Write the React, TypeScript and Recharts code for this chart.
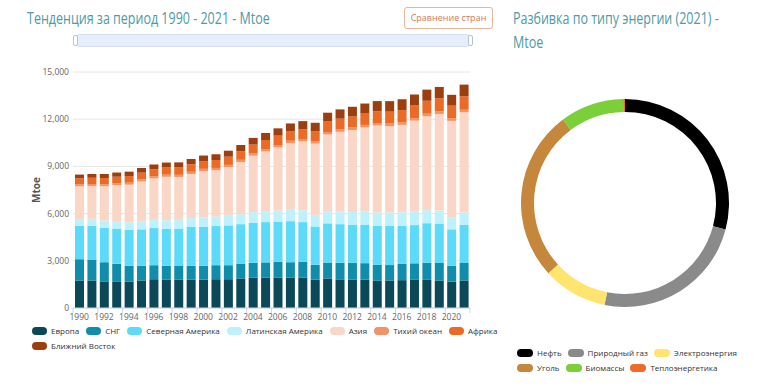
import React from 'react';
import { Bar, BarChart, CartesianGrid, Cell, Pie, PieChart, XAxis, YAxis } from 'recharts';

const FONT = '"Open Sans", "Noto Sans", sans-serif';
const TITLE_COLOR = '#4F9AA3';
const AXIS_LINE = '#CCD6EB';
const GRID = '#E6E6E6';
const LABEL = '#666666';

const YEARS = [
  1990, 1991, 1992, 1993, 1994, 1995, 1996, 1997, 1998, 1999, 2000, 2001, 2002, 2003, 2004, 2005,
  2006, 2007, 2008, 2009, 2010, 2011, 2012, 2013, 2014, 2015, 2016, 2017, 2018, 2019, 2020, 2021,
];

// Mtoe by region
const EUROPE = [
  1750, 1750, 1690, 1690, 1670, 1750, 1830, 1810, 1810, 1810, 1800, 1830, 1830, 1880, 1940, 1940,
  1940, 1920, 1920, 1800, 1880, 1820, 1810, 1800, 1730, 1750, 1770, 1790, 1790, 1750, 1670, 1750,
];
const CIS = [
  1350, 1330, 1220, 1120, 1010, 930, 890, 870, 860, 870, 880, 890, 890, 920, 930, 960,
  990, 990, 1010, 950, 1010, 1060, 1060, 1050, 1010, 980, 1030, 1050, 1090, 1110, 1010, 1110,
];
const NORTH_AMERICA = [
  2130, 2150, 2190, 2240, 2280, 2320, 2360, 2360, 2380, 2470, 2490, 2490, 2530, 2530, 2550, 2560,
  2560, 2610, 2530, 2430, 2490, 2450, 2410, 2450, 2490, 2490, 2430, 2430, 2510, 2510, 2320, 2430,
];
const LATIN_AMERICA = [
  430, 450, 460, 475, 490, 500, 520, 540, 550, 560, 590, 600, 615, 635, 670, 690,
  700, 730, 750, 740, 770, 790, 820, 840, 840, 850, 850, 840, 830, 820, 760, 780,
];
const ASIA = [
  2080, 2080, 2180, 2285, 2390, 2545, 2640, 2760, 2730, 2810, 2945, 2950, 3090, 3310, 3590, 3800,
  4020, 4230, 4380, 4530, 4880, 5080, 5215, 5340, 5530, 5490, 5560, 5800, 5970, 6145, 6135, 6370,
];
const PACIFIC = [
  120, 122, 123, 125, 127, 130, 132, 134, 136, 138, 140, 142, 143, 145, 147, 148,
  149, 150, 152, 152, 153, 154, 155, 156, 157, 158, 158, 159, 160, 160, 155, 158,
];
const AFRICA = [
  390, 395, 400, 410, 420, 430, 445, 455, 465, 475, 490, 505, 520, 540, 560, 580,
  595, 610, 625, 640, 670, 680, 700, 720, 740, 760, 780, 800, 820, 840, 810, 860,
];
const MIDDLE_EAST = [
  230, 240, 255, 265, 280, 295, 305, 315, 325, 340, 355, 365, 380, 400, 425, 445,
  465, 490, 510, 530, 560, 590, 620, 640, 655, 670, 690, 700, 710, 715, 690, 740,
];

const Y_TICKS = [0, 3000, 6000, 9000, 12000, 15000];

const REGIONS = [
  { key: 'europe', name: 'Европа', color: '#0B4858', values: EUROPE },
  { key: 'cis', name: 'СНГ', color: '#0F8DAA', values: CIS },
  { key: 'na', name: 'Северная Америка', color: '#5BDBF9', values: NORTH_AMERICA },
  { key: 'la', name: 'Латинская Америка', color: '#BDF1FC', values: LATIN_AMERICA },
  { key: 'asia', name: 'Азия', color: '#F9D6C5', values: ASIA },
  { key: 'pacific', name: 'Тихий океан', color: '#F29267', values: PACIFIC },
  { key: 'africa', name: 'Африка', color: '#EB6A26', values: AFRICA },
  { key: 'me', name: 'Ближний Восток', color: '#9C3F10', values: MIDDLE_EAST },
];

// 2021 split by energy type, Mtoe
const ENERGY_TYPES = ['Нефть', 'Природный газ', 'Электроэнергия', 'Уголь', 'Биомассы', 'Теплоэнергетика'];
const ENERGY_2021 = [4150, 3430, 1430, 3800, 1410, 40];
const ENERGY_COLORS = ['#000000', '#8A8A8A', '#FFE470', '#C4873C', '#7BD03A', '#EE6B2A'];

const rows = YEARS.map((year, i) => {
  const row: Record<string, number> = { year };
  REGIONS.forEach((r) => {
    row[r.key] = r.values[i];
  });
  return row;
});

const energyRows = ENERGY_TYPES.map((name, i) => ({ name, value: ENERGY_2021[i] }));

function YearTick(props: any) {
  const { x, y, payload, index } = props;
  const half = 6.2;
  const axisY = y - 6;
  return (
    <g>
      {index % 2 === 0 ? (
        <line x1={x - half} x2={x - half} y1={axisY} y2={axisY + 5} stroke={AXIS_LINE} />
      ) : null}
      {index === YEARS.length - 1 ? (
        <line x1={x + half} x2={x + half} y1={axisY} y2={axisY + 5} stroke={AXIS_LINE} />
      ) : null}
      {index % 2 === 0 ? (
        <text x={x} y={y} dy="0.71em" textAnchor="middle" fill={LABEL} fontSize={8.5} fontFamily={FONT}>
          {payload.value}
        </text>
      ) : null}
    </g>
  );
}

function Title({ children, left, top, width }: { children: React.ReactNode; left: number; top: number; width: number }) {
  return (
    <div
      style={{
        position: 'absolute',
        left,
        top,
        width,
        color: TITLE_COLOR,
        fontFamily: FONT,
        fontSize: 17,
        lineHeight: '24px',
        whiteSpace: 'nowrap',
        transform: 'scaleX(0.735)',
        transformOrigin: 'left top',
      }}
    >
      {children}
    </div>
  );
}

function LegendRow({
  items,
  left,
  top,
  width,
  swatch,
  gap,
}: {
  items: { name: string; color: string }[];
  left: number;
  top: number;
  width: number;
  swatch: number;
  gap: number;
}) {
  return (
    <div
      style={{
        position: 'absolute',
        left,
        top,
        width,
        display: 'flex',
        flexWrap: 'wrap',
        fontFamily: FONT,
        fontSize: 8,
        color: '#333333',
        lineHeight: '15px',
      }}
    >
      {items.map((it) => (
        <div key={it.name} style={{ display: 'flex', alignItems: 'center', marginRight: gap, whiteSpace: 'nowrap' }}>
          <span
            style={{
              display: 'inline-block',
              width: swatch,
              height: 8,
              borderRadius: 4,
              background: it.color,
              marginRight: 4,
            }}
          />
          {it.name}
        </div>
      ))}
    </div>
  );
}

export default function App() {
  return (
    <div style={{ position: 'absolute', left: 0, top: 0, width: 758, height: 388, background: '#fff', overflow: 'hidden' }}>
      <Title left={27} top={6} width={400}>Тенденция за период 1990 - 2021 - Mtoe</Title>
      <div
        style={{
          position: 'absolute',
          left: 404,
          top: 7,
          width: 87,
          height: 20,
          border: '1px solid #E9B59B',
          borderRadius: 3,
          color: '#D9784F',
          fontFamily: FONT,
          fontSize: 9,
          lineHeight: '20px',
          textAlign: 'center',
        }}
      >
        Сравнение стран
      </div>
      <div
        style={{
          position: 'absolute',
          left: 74,
          top: 34,
          width: 396,
          height: 11,
          background: '#E6EEFC',
          border: '1px solid #D6DFF2',
          borderRadius: 6,
        }}
      />
      <div style={{ position: 'absolute', left: 73, top: 35, width: 3, height: 9, background: '#fff', border: '1px solid #B8C2D6', borderRadius: 2 }} />
      <div style={{ position: 'absolute', left: 468, top: 35, width: 3, height: 9, background: '#fff', border: '1px solid #B8C2D6', borderRadius: 2 }} />

      <div style={{ position: 'absolute', left: 0, top: 0 }}>
        <BarChart width={480} height={330} data={rows} margin={{ top: 72, right: 10, bottom: 0, left: 0 }}>
          <CartesianGrid vertical={false} stroke={GRID} />
          <XAxis
            dataKey="year"
            interval={0}
            height={22}
            tickSize={4}
            tickMargin={2}
            tickLine={false}
            axisLine={{ stroke: AXIS_LINE }}
            tick={<YearTick />}
          />
          <YAxis
            width={73}
            domain={[0, 15000]}
            ticks={Y_TICKS}
            tickSize={2}
            tickMargin={2}
            axisLine={false}
            tickLine={false}
            tick={{ fill: LABEL, fontSize: 8.5, fontFamily: FONT }}
            tickFormatter={(v: number) => v.toLocaleString('en-US')}
            label={{
              value: 'Mtoe',
              angle: -90,
              position: 'insideLeft',
              offset: 36,
              style: { fill: '#555', fontSize: 10, fontWeight: 700, fontFamily: FONT, textAnchor: 'middle' },
            }}
          />
          {REGIONS.map((r) => (
            <Bar key={r.key} dataKey={r.key} name={r.name} stackId="total" fill={r.color} barSize={9} isAnimationActive={false} />
          ))}
        </BarChart>
      </div>
      <LegendRow items={REGIONS} left={32} top={323} width={488} swatch={15} gap={7} />

      <Title left={513} top={6} width={340}>Разбивка по типу энергии (2021) -</Title>
      <Title left={513} top={30} width={100}>Mtoe</Title>
      <div style={{ position: 'absolute', left: 505, top: 83 }}>
        <PieChart width={240} height={240}>
          <Pie
            data={energyRows}
            dataKey="value"
            nameKey="name"
            cx="50%"
            cy="50%"
            innerRadius={91}
            outerRadius={104}
            startAngle={90}
            endAngle={-270}
            stroke="none"
            isAnimationActive={false}
          >
            {energyRows.map((d, i) => (
              <Cell key={d.name} fill={ENERGY_COLORS[i]} />
            ))}
          </Pie>
        </PieChart>
      </div>
      <LegendRow
        items={ENERGY_TYPES.map((name, i) => ({ name, color: ENERGY_COLORS[i] }))}
        left={517}
        top={345}
        width={240}
        swatch={16}
        gap={6}
      />
    </div>
  );
}
